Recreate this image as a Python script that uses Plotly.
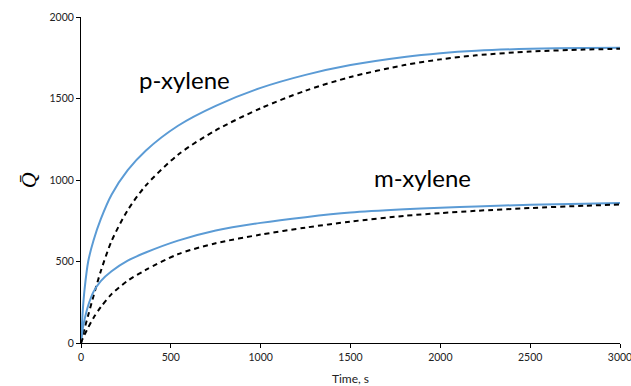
import plotly.graph_objects as go

# Sampling times (s)
time_s = [0, 10, 20, 40, 70, 110, 170, 260, 360, 540, 750, 1000, 1250, 1500,
          1800, 2000, 2200, 2500, 2800, 3000]

# Measured uptake (solid) and model (dashed) for each isomer
p_measured = [0, 200, 330, 500, 630, 760, 910, 1060, 1180, 1333, 1455, 1565,
              1645, 1705, 1755, 1778, 1793, 1805, 1810, 1812]
p_model = [0, 45, 90, 170, 290, 440, 625, 815, 965, 1155, 1305, 1440,
           1548, 1632, 1705, 1740, 1765, 1788, 1800, 1805]
m_measured = [0, 90, 145, 230, 315, 380, 440, 505, 555, 628, 690, 737,
              772, 800, 820, 830, 838, 848, 855, 859]
m_model = [0, 28, 52, 95, 155, 220, 300, 382, 448, 545, 612, 665,
           708, 745, 780, 797, 811, 828, 842, 850]

x_ticks = [0, 500, 1000, 1500, 2000, 2500, 3000]
y_ticks = [0, 500, 1000, 1500, 2000]

blue = "#5B9BD5"
solid = dict(color=blue, width=2, shape="spline", smoothing=0.8)
dashed = dict(color="black", width=2, dash="5px,4px", shape="spline", smoothing=0.8)

fig = go.Figure()
fig.add_trace(go.Scatter(x=time_s, y=p_measured, mode="lines", line=solid))
fig.add_trace(go.Scatter(x=time_s, y=p_model, mode="lines", line=dashed))
fig.add_trace(go.Scatter(x=time_s, y=m_measured, mode="lines", line=solid))
fig.add_trace(go.Scatter(x=time_s, y=m_model, mode="lines", line=dashed))

font_family = "Lato, Open Sans, sans-serif"

fig.add_annotation(x=578, y=1616, text="p-xylene", showarrow=False,
                   font=dict(family=font_family, size=24, color="black"))
fig.add_annotation(x=1903, y=1013, text="m-xylene", showarrow=False,
                   font=dict(family=font_family, size=24, color="black"))
fig.add_annotation(xref="paper", yref="paper", x=-0.098, y=0.5,
                   xanchor="center", text="<i>Q\u0304</i>", textangle=-90, showarrow=False,
                   font=dict(family="Liberation Serif, serif", size=22, color="black"))

fig.update_layout(
    width=631, height=386,
    margin=dict(l=81, r=11, t=17, b=43),
    paper_bgcolor="white", plot_bgcolor="white",
    showlegend=False,
    font=dict(family=font_family, size=10.5, color="#222"),
)
fig.update_xaxes(range=[0, 3000], tickvals=x_ticks, showgrid=False, zeroline=False,
                 showline=True, linecolor="black", linewidth=1,
                 ticks="outside", ticklen=4, tickcolor="black",
                 ticklabeloverflow="allow", automargin=False,
                 title=dict(text="Time, s", font=dict(size=12), standoff=14))
fig.update_yaxes(range=[0, 2000], tickvals=y_ticks, showgrid=False, zeroline=False,
                 showline=True, linecolor="black", linewidth=1, automargin=False,
                 ticks="outside", ticklen=4, tickcolor="black")

fig.write_html("out.html")
